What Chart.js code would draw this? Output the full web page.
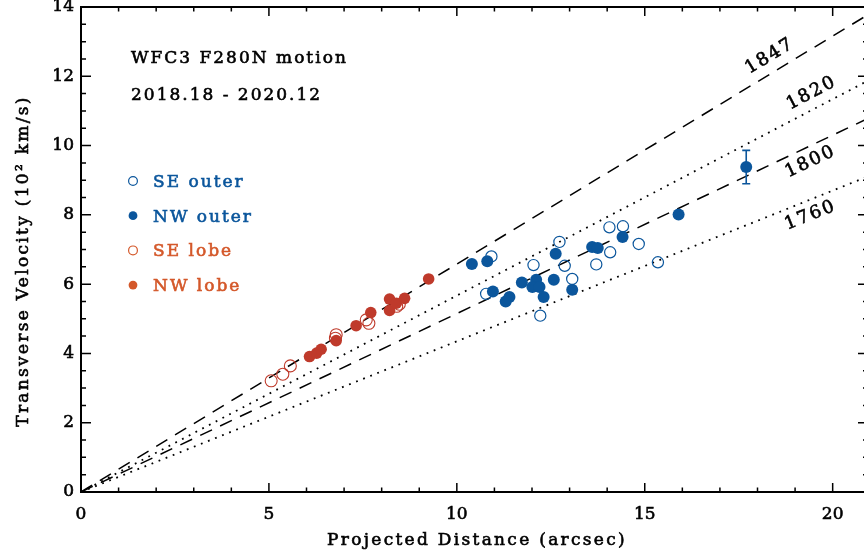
<!DOCTYPE html>
<html>
<head>
<meta charset="utf-8">
<script src="https://cdn.jsdelivr.net/npm/chart.js@4.4.0/dist/chart.umd.min.js"></script>
<style>
  html, body { margin: 0; padding: 0; background: #fff; overflow: hidden; }
  /* a bit wider than the window: the right frame of the figure is cut off */
  #wrap { width: 868px; height: 551px; }
</style>
</head>
<body>
<div id="wrap"><canvas id="graph"></canvas></div>
<script>
// values (distance in arcsec, velocity in 100 km/s)
const seOuterX = [10.92, 12.73, 14.06, 14.42, 14.84, 14.08, 13.71, 12.87, 12.04, 13.07, 10.78, 12.22, 15.35];
const seOuterY = [6.80, 7.22, 7.64, 7.67, 7.16, 6.92, 6.57, 6.53, 6.55, 6.15, 5.72, 5.09, 6.63];
const nwOuterX = [10.40, 10.81, 12.63, 13.60, 13.75, 14.41, 15.90, 11.73, 12.11, 12.01, 12.20, 12.58, 12.31, 13.07, 10.96, 11.40, 11.30, 17.70];
const nwOuterY = [6.58, 6.66, 6.88, 7.07, 7.04, 7.36, 8.01, 6.05, 6.13, 5.92, 5.92, 6.13, 5.63, 5.84, 5.79, 5.63, 5.50, 9.38];
const seLobeX = [5.06, 5.37, 5.57, 6.77, 6.79, 7.59, 7.66, 8.40, 8.47];
const seLobeY = [3.21, 3.40, 3.64, 4.44, 4.54, 4.97, 4.87, 5.36, 5.42];
const nwLobeX = [6.08, 6.27, 6.39, 6.79, 7.32, 7.71, 8.21, 8.21, 8.39, 8.61, 9.25];
const nwLobeY = [3.91, 4.01, 4.12, 4.37, 4.80, 5.18, 5.24, 5.57, 5.45, 5.59, 6.15];
// the one point with an error bar
const errX = [17.70];
const errY = [9.38];
const errSize = [0.48];
// ejection-date lines v = slope * d
const lineYears = ["1847", "1820", "1800", "1760"];
const lineSlopes = [0.658, 0.567, 0.515, 0.435];
const xTicks = [0, 5, 10, 15, 20];
const yTicks = [0, 2, 4, 6, 8, 10, 12, 14];
const xMax = 20.94;
const yMax = 14;

const BLUE = '#0b569c';
const RED = '#bf3a2b';
const ORANGE = '#d4582a';
const FONT = "'DejaVu Serif', serif";

Chart.defaults.font.family = FONT;
Chart.defaults.color = '#000';

function pts(xs, ys) {
  return xs.map((x, i) => ({ x: x, y: ys[i] }));
}

let datasets = [
  { label: 'NW outer', data: pts(nwOuterX, nwOuterY), backgroundColor: BLUE, borderColor: BLUE, pointRadius: 6, borderWidth: 0 },
  { label: 'SE outer', data: pts(seOuterX, seOuterY), backgroundColor: 'rgba(0,0,0,0)', borderColor: BLUE, pointRadius: 5.6, borderWidth: 1.2 },
  { label: 'NW lobe', data: pts(nwLobeX, nwLobeY), backgroundColor: RED, borderColor: RED, pointRadius: 5.8, borderWidth: 0 },
  { label: 'SE lobe', data: pts(seLobeX, seLobeY), backgroundColor: 'rgba(0,0,0,0)', borderColor: RED, pointRadius: 6, borderWidth: 1.1 }
];
lineYears.forEach((yr, i) => {
  const dotted = (yr === "1820" || yr === "1760");
  datasets.push({
    type: 'line',
    label: yr,
    data: [{ x: 0, y: 0 }, { x: xMax, y: lineSlopes[i] * xMax }],
    borderColor: '#000',
    borderWidth: dotted ? 1.8 : 1.5,
    borderDash: dotted ? [1.8, 5.8] : [13, 9],
    pointRadius: 0,
    fill: false
  });
});

// fill + thin stroke, the figure's lettering is heavy
function heavyText(ctx, s, x, y) {
  ctx.strokeStyle = ctx.fillStyle;
  ctx.lineWidth = 0.6;
  ctx.fillText(s, x, y);
  ctx.strokeText(s, x, y);
}

// inward ticks, box frame, error bar, texts
const extras = {
  id: 'extras',
  afterDatasetsDraw(chart) {
    const ctx = chart.ctx, xs = chart.scales.x, ys = chart.scales.y;
    ctx.save();
    ctx.strokeStyle = BLUE;
    ctx.lineWidth = 1.6;
    errX.forEach((x, i) => {
      const px = xs.getPixelForValue(x);
      const top = ys.getPixelForValue(errY[i] + errSize[i]);
      const bot = ys.getPixelForValue(errY[i] - errSize[i]);
      ctx.beginPath();
      ctx.moveTo(px, top); ctx.lineTo(px, bot);
      ctx.moveTo(px - 4, top); ctx.lineTo(px + 4, top);
      ctx.moveTo(px - 4, bot); ctx.lineTo(px + 4, bot);
      ctx.stroke();
    });
    ctx.restore();
  },
  afterDraw(chart) {
    const ctx = chart.ctx, a = chart.chartArea, xs = chart.scales.x, ys = chart.scales.y;
    ctx.save();
    ctx.strokeStyle = '#000';
    ctx.lineWidth = 2;
    ctx.strokeRect(a.left, a.top, a.right - a.left, a.bottom - a.top);
    ctx.lineWidth = 1.5;
    ctx.beginPath();
    for (let v = 0; v <= 20; v++) {
      const len = v % 5 === 0 ? 9 : 4.5;
      const px = xs.getPixelForValue(v);
      ctx.moveTo(px, a.bottom); ctx.lineTo(px, a.bottom - len);
      ctx.moveTo(px, a.top); ctx.lineTo(px, a.top + len);
    }
    for (let v = 0; v <= 14; v += 0.5) {
      const len = v % 2 === 0 ? 10 : 5;
      const py = ys.getPixelForValue(v);
      ctx.moveTo(a.left, py); ctx.lineTo(a.left + len, py);
      ctx.moveTo(a.right, py); ctx.lineTo(a.right - len, py);
    }
    ctx.stroke();

    ctx.letterSpacing = '2px';
    ctx.font = "17px " + FONT;
    ctx.fillStyle = '#000';
    ctx.textAlign = 'left';
    ctx.textBaseline = 'alphabetic';
    heavyText(ctx, 'WFC3 F280N motion', 131, 63);
    heavyText(ctx, '2018.18 - 2020.12', 131, 100);

    // legend
    const leg = [
      { t: 'SE outer', c: BLUE, filled: false },
      { t: 'NW outer', c: BLUE, filled: true },
      { t: 'SE lobe', c: ORANGE, filled: false },
      { t: 'NW lobe', c: ORANGE, filled: true }
    ];
    leg.forEach((it, i) => {
      const cy = 181 + i * 34.7;
      ctx.beginPath();
      ctx.arc(133, cy, 4.4, 0, Math.PI * 2);
      if (it.filled) { ctx.fillStyle = it.c; ctx.fill(); }
      else { ctx.strokeStyle = it.c; ctx.lineWidth = 1.2; ctx.stroke(); }
      ctx.fillStyle = it.c;
      heavyText(ctx, it.t, 153, cy + 6);
    });

    // labels along the date lines
    const labX = [18.33, 19.44, 19.41, 19.41];
    const labDy = [-18, -17, 16, 16];
    ctx.fillStyle = '#000';
    ctx.font = "18px " + FONT;
    ctx.textAlign = 'center';
    ctx.textBaseline = 'middle';
    lineYears.forEach((yr, i) => {
      const px = xs.getPixelForValue(labX[i]);
      const py = ys.getPixelForValue(lineSlopes[i] * labX[i]);
      const ang = Math.atan2(ys.getPixelForValue(lineSlopes[i] * (labX[i] + 1)) - py,
                             xs.getPixelForValue(labX[i] + 1) - px);
      ctx.save();
      ctx.translate(px, py + labDy[i]);
      ctx.rotate(ang);
      heavyText(ctx, yr, 0, 0);
      ctx.restore();
    });

    // axis titles
    ctx.font = "17px " + FONT;
    ctx.letterSpacing = '2.3px';
    ctx.textBaseline = 'alphabetic';
    heavyText(ctx, 'Projected Distance (arcsec)', 477, 545);
    ctx.save();
    ctx.translate(28, 261);
    ctx.rotate(-Math.PI / 2);
    heavyText(ctx, 'Transverse Velocity (10\u00B2 km/s)', 0, 0);
    ctx.restore();
    ctx.restore();
  }
};

new Chart(document.getElementById('graph'), {
  type: 'scatter',
  data: { datasets: datasets },
  options: {
    responsive: true,
    maintainAspectRatio: false,
    animation: false,
    layout: { autoPadding: false, padding: { top: 7, right: 0, left: 0, bottom: 0 } },
    plugins: { legend: { display: false }, tooltip: { enabled: false } },
    scales: {
      x: {
        type: 'linear', min: 0, max: xMax,
        afterBuildTicks: s => { s.ticks = xTicks.map(v => ({ value: v })); },
        afterFit: s => { s.height = 59; s.paddingLeft = 0; s.paddingRight = 0; },
        ticks: { padding: 12, font: { size: 17 }, color: '#000', textStrokeColor: '#000', textStrokeWidth: 0.6 },
        grid: { display: false, drawTicks: false },
        border: { display: false }
      },
      y: {
        type: 'linear', min: 0, max: yMax,
        afterBuildTicks: s => { s.ticks = yTicks.map(v => ({ value: v })); },
        afterFit: s => { s.width = 81; s.paddingTop = 0; s.paddingBottom = 0; },
        ticks: { padding: 7, font: { size: 17 }, color: '#000', textStrokeColor: '#000', textStrokeWidth: 0.6 },
        grid: { display: false, drawTicks: false },
        border: { display: false }
      }
    }
  },
  plugins: [extras]
});
</script>
</body>
</html>
